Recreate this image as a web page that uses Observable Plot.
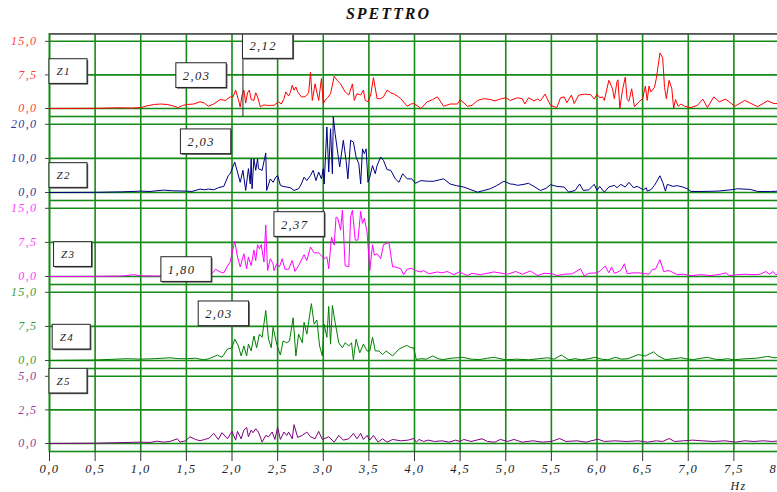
<!DOCTYPE html>
<html><head><meta charset="utf-8">
<script src="https://cdn.jsdelivr.net/npm/d3@7"></script>
<script src="https://cdn.jsdelivr.net/npm/@observablehq/plot@0.6"></script>
<style>
html,body{margin:0;padding:0;background:#fff;overflow:hidden;width:777px;height:492px}
#title{height:33px;box-sizing:border-box;padding-top:6px;text-align:center;font-family:"Liberation Serif",serif;font-style:italic;font-weight:700;font-size:16px;line-height:16px;letter-spacing:2px;color:#111}
#chart svg{display:block;max-width:none !important;overflow:hidden}
#chart svg text{letter-spacing:1.4px}
</style></head><body>
<div id="title">SPETTRO</div>
<div id="chart"></div>
<script>
// ---- data: [frequency Hz, amplitude] ----
const z1 = [[0,0],[0.3,0.02],[0.55,0.05],[0.75,0.15],[0.9,0.1],[1.0,0.2],[1.07,0.6],[1.15,0.9],[1.22,1.0],[1.29,0.9],[1.35,0.6],[1.41,0.2],[1.46,0.7],[1.51,0.9],[1.58,1.0],[1.65,1.5],[1.7,1.2],[1.74,0.5],[1.8,1.0],[1.87,2.0],[1.93,1.8],[1.98,2.6],[2.01,2.5],[2.04,4.1],[2.07,2.0],[2.09,0.3],[2.11,3.0],[2.13,4.1],[2.15,1.2],[2.17,3.5],[2.19,4.1],[2.21,2.0],[2.24,1.8],[2.26,3.5],[2.28,2.6],[2.31,0.4],[2.35,0.8],[2.38,0.7],[2.42,0.7],[2.46,0.7],[2.51,1.5],[2.54,1.0],[2.57,2.2],[2.59,3.7],[2.62,2.8],[2.64,3.6],[2.66,5.2],[2.68,4.1],[2.70,4.8],[2.72,3.7],[2.76,2.6],[2.80,2.6],[2.84,3.5],[2.86,8.1],[2.88,1.8],[2.91,5.5],[2.95,1.8],[2.98,6.7],[3.0,1.1],[3.02,1.8],[3.05,2.5],[3.08,3.3],[3.12,7.2],[3.15,6.3],[3.19,5.5],[3.24,3.7],[3.28,3.0],[3.32,5.5],[3.34,1.8],[3.37,3.3],[3.41,3.0],[3.44,4.1],[3.46,1.8],[3.49,1.5],[3.52,3.0],[3.55,6.9],[3.59,2.2],[3.63,2.2],[3.66,2.6],[3.70,4.1],[3.74,3.5],[3.77,3.3],[3.81,2.8],[3.85,2.2],[3.92,0.5],[3.96,1.0],[3.99,1.1],[4.04,0.5],[4.07,0.0],[4.14,1.5],[4.2,2.0],[4.25,2.6],[4.32,0.5],[4.39,1.0],[4.47,1.0],[4.50,2.0],[4.58,0.5],[4.63,0.7],[4.69,1.8],[4.76,2.2],[4.83,2.0],[4.88,1.7],[4.94,2.1],[5.00,2.4],[5.05,1.8],[5.13,2.4],[5.18,2.2],[5.21,1.0],[5.25,2.4],[5.31,1.7],[5.35,2.1],[5.38,1.7],[5.43,3.2],[5.49,0.7],[5.56,0.2],[5.60,2.4],[5.64,2.6],[5.67,1.3],[5.72,3.0],[5.75,1.1],[5.80,3.0],[5.86,3.2],[5.93,3.1],[5.97,2.1],[6.0,3.2],[6.03,2.4],[6.06,2.6],[6.08,1.8],[6.13,6.3],[6.17,4.4],[6.19,2.2],[6.22,6.1],[6.23,6.4],[6.25,0.0],[6.28,4.2],[6.31,7.0],[6.33,2.0],[6.35,1.6],[6.38,4.4],[6.41,0.4],[6.46,1.5],[6.50,2.2],[6.53,5.0],[6.55,1.8],[6.57,5.0],[6.59,3.7],[6.63,4.7],[6.65,6.7],[6.69,12.4],[6.72,11.3],[6.74,4.7],[6.76,2.2],[6.79,6.3],[6.82,4.4],[6.84,0.0],[6.86,2.0],[6.89,0.5],[6.92,1.0],[6.96,0.5],[7.03,0.2],[7.10,0.7],[7.16,2.1],[7.21,0.2],[7.28,2.6],[7.34,1.5],[7.41,2.1],[7.51,0.5],[7.62,1.8],[7.70,1.0],[7.76,0.4],[7.87,1.7],[7.94,1.1],[8.0,1.1]];
const z2 = [[0,0],[0.5,0.05],[0.8,0.2],[1.0,0.4],[1.1,0.3],[1.25,0.7],[1.35,0.5],[1.5,0.4],[1.56,0.3],[1.65,1.0],[1.7,0.8],[1.74,1.0],[1.8,0.8],[1.85,1.4],[1.91,1.8],[1.96,5.0],[1.98,5.5],[2.03,8.9],[2.06,6.0],[2.09,3.0],[2.12,6.5],[2.15,0.6],[2.18,7.0],[2.20,2.5],[2.21,9.9],[2.22,1.1],[2.24,9.9],[2.26,6.5],[2.28,9.9],[2.29,7.0],[2.33,6.5],[2.37,11.6],[2.38,0.6],[2.42,4.0],[2.45,3.0],[2.48,4.5],[2.50,5.0],[2.53,2.1],[2.56,1.8],[2.60,1.6],[2.64,1.4],[2.68,0.6],[2.73,1.1],[2.76,2.5],[2.79,4.5],[2.82,3.5],[2.86,5.0],[2.89,6.5],[2.92,3.5],[2.95,6.0],[2.98,4.0],[3.00,7.0],[3.01,2.5],[3.04,19.2],[3.06,6.0],[3.08,18.7],[3.10,5.5],[3.11,22.2],[3.13,17.3],[3.16,11.4],[3.18,7.5],[3.22,15.3],[3.25,9.4],[3.27,4.0],[3.30,15.3],[3.33,14.8],[3.36,10.4],[3.39,8.4],[3.41,2.5],[3.43,12.8],[3.45,11.4],[3.47,12.8],[3.49,3.0],[3.51,4.5],[3.54,7.9],[3.57,5.5],[3.59,7.9],[3.63,10.4],[3.66,9.4],[3.70,6.7],[3.74,6.5],[3.79,4.0],[3.83,3.0],[3.87,5.5],[3.92,4.0],[3.97,4.0],[4.01,2.7],[4.07,3.5],[4.14,3.3],[4.21,3.3],[4.27,3.7],[4.32,4.0],[4.39,2.5],[4.46,2.0],[4.54,1.6],[4.62,0.8],[4.69,0.1],[4.76,0.6],[4.83,1.1],[4.90,2.0],[4.98,3.3],[5.05,2.5],[5.09,2.4],[5.13,2.1],[5.20,2.4],[5.25,2.7],[5.32,1.6],[5.38,0.6],[5.44,1.2],[5.49,2.3],[5.56,1.8],[5.64,1.6],[5.69,0.1],[5.76,0.6],[5.81,2.5],[5.85,0.6],[5.91,0.8],[5.97,2.4],[6.00,0.6],[6.03,1.8],[6.08,0.1],[6.13,1.6],[6.19,2.1],[6.22,1.4],[6.26,2.4],[6.31,1.6],[6.35,3.0],[6.40,1.4],[6.44,1.8],[6.51,0.8],[6.54,1.4],[6.55,0.4],[6.59,0.8],[6.63,2.1],[6.65,3.0],[6.69,4.9],[6.72,3.0],[6.75,0.4],[6.77,2.4],[6.83,1.8],[6.88,2.0],[6.94,1.6],[6.99,1.1],[7.03,0.3],[7.14,0.3],[7.32,0.4],[7.47,0.8],[7.54,1.1],[7.68,0.9],[7.76,0.3],[7.90,0.3],[8.0,0.4]];
const z3 = [[0,0],[0.5,0.02],[0.8,0.1],[0.92,0.4],[1.0,0.15],[1.2,0.1],[1.5,0.1],[1.78,0.6],[1.82,1.6],[1.87,1.0],[1.91,0.8],[1.95,2.3],[1.98,3.2],[2.03,7.8],[2.06,4.3],[2.09,2.1],[2.13,5.0],[2.16,1.7],[2.18,4.3],[2.21,2.4],[2.24,5.8],[2.26,3.5],[2.28,7.0],[2.30,6.1],[2.32,7.0],[2.35,3.2],[2.37,11.3],[2.39,1.3],[2.42,3.9],[2.45,2.8],[2.46,1.3],[2.49,2.8],[2.52,2.1],[2.55,3.9],[2.58,1.6],[2.62,1.6],[2.66,3.5],[2.69,1.1],[2.73,2.4],[2.79,4.8],[2.82,3.5],[2.86,6.5],[2.90,5.2],[2.95,5.2],[3.01,3.9],[3.04,4.3],[3.06,1.7],[3.09,8.7],[3.12,6.9],[3.14,13.1],[3.16,12.8],[3.19,10.2],[3.21,14.6],[3.24,2.4],[3.28,2.1],[3.30,13.1],[3.32,14.6],[3.35,8.0],[3.38,8.0],[3.41,14.3],[3.43,11.7],[3.45,12.8],[3.48,9.8],[3.51,1.3],[3.54,7.0],[3.56,4.7],[3.59,5.0],[3.63,3.9],[3.66,7.0],[3.72,7.5],[3.76,2.1],[3.79,2.1],[3.85,1.7],[3.88,0.4],[3.92,1.6],[3.97,1.8],[4.01,1.3],[4.07,1.0],[4.10,1.3],[4.16,0.6],[4.25,1.0],[4.30,0.8],[4.36,1.1],[4.43,0.4],[4.49,1.0],[4.58,0.2],[4.63,0.7],[4.72,0.4],[4.87,1.0],[5.02,0.5],[5.11,1.1],[5.18,0.5],[5.27,1.2],[5.35,0.2],[5.42,0.7],[5.51,0.6],[5.56,0.2],[5.64,0.5],[5.73,0.6],[5.82,1.7],[5.86,0.1],[5.91,0.7],[6.00,0.8],[6.04,1.3],[6.09,2.3],[6.13,0.8],[6.16,2.1],[6.19,0.7],[6.24,1.1],[6.27,1.6],[6.30,2.8],[6.33,0.6],[6.39,0.8],[6.46,0.8],[6.57,0.5],[6.61,1.6],[6.64,1.6],[6.69,3.7],[6.73,1.1],[6.79,1.3],[6.88,0.4],[6.95,0.5],[7.03,0.2],[7.14,0.4],[7.25,0.2],[7.35,0.5],[7.41,0.8],[7.45,0.2],[7.54,0.4],[7.62,0.5],[7.72,0.4],[7.79,0.5],[7.85,1.1],[7.89,0.5],[7.93,1.1],[7.96,0.4],[8.0,0.6]];
const z4 = [[0,0],[0.5,0.1],[0.85,0.4],[1.0,0.3],[1.15,0.4],[1.32,0.6],[1.42,0.4],[1.51,0.4],[1.6,0.5],[1.69,0.15],[1.75,0.4],[1.84,1.2],[1.89,0.7],[1.95,2.5],[2.00,2.8],[2.03,4.7],[2.07,3.2],[2.10,1.0],[2.13,3.2],[2.16,1.0],[2.18,3.6],[2.21,2.1],[2.24,5.4],[2.27,2.8],[2.30,5.8],[2.33,5.1],[2.37,11.0],[2.40,4.7],[2.43,2.8],[2.45,7.3],[2.49,3.6],[2.53,1.2],[2.56,4.3],[2.60,3.9],[2.63,4.3],[2.67,9.4],[2.70,1.0],[2.73,5.8],[2.77,3.9],[2.79,8.4],[2.82,5.8],[2.87,12.5],[2.90,8.0],[2.93,8.9],[2.96,3.2],[2.99,1.0],[3.01,8.0],[3.04,5.1],[3.06,11.9],[3.08,3.6],[3.10,12.1],[3.13,8.4],[3.17,3.9],[3.21,2.8],[3.24,3.9],[3.28,3.2],[3.31,3.9],[3.33,0.2],[3.36,4.7],[3.40,1.7],[3.44,3.6],[3.48,2.1],[3.51,2.1],[3.54,5.1],[3.57,2.1],[3.61,2.1],[3.65,1.3],[3.69,2.1],[3.76,1.0],[3.83,2.5],[3.90,3.2],[3.92,3.3],[3.96,2.8],[3.99,2.8],[4.02,0.2],[4.07,0.4],[4.13,0.3],[4.20,1.0],[4.26,0.4],[4.31,0.2],[4.40,0.5],[4.53,0.7],[4.62,0.3],[4.71,0.2],[4.80,0.5],[4.87,0.7],[5.0,0.15],[5.12,0.3],[5.25,0.15],[5.36,0.4],[5.46,0.6],[5.53,0.3],[5.61,1.2],[5.69,0.15],[5.76,0.4],[5.83,0.15],[5.91,0.4],[5.98,0.7],[6.05,0.3],[6.12,0.15],[6.20,0.7],[6.27,0.3],[6.34,0.4],[6.45,1.3],[6.53,1.0],[6.62,1.9],[6.67,1.0],[6.75,0.2],[6.84,0.4],[6.92,0.6],[7.0,0.3],[7.06,0.2],[7.14,0.5],[7.21,0.7],[7.29,0.3],[7.36,0.2],[7.43,0.4],[7.50,0.15],[7.57,0.3],[7.64,0.4],[7.75,0.5],[7.87,0.9],[7.94,0.6],[8.0,0.7]];
const z5 = [[0,0],[0.5,0.02],[1.0,0.1],[1.1,0.08],[1.18,0.17],[1.25,0.1],[1.32,0.15],[1.40,0.35],[1.43,0.1],[1.49,0.2],[1.54,0.5],[1.60,0.3],[1.65,0.2],[1.70,0.3],[1.75,0.4],[1.80,0.75],[1.85,0.3],[1.89,0.8],[1.95,0.35],[2.00,0.9],[2.04,0.25],[2.06,0.9],[2.10,0.35],[2.13,1.0],[2.16,1.2],[2.18,0.5],[2.21,1.0],[2.23,0.8],[2.26,1.1],[2.29,0.85],[2.33,0.1],[2.37,0.6],[2.40,0.5],[2.44,0.85],[2.47,0.3],[2.50,1.2],[2.53,0.3],[2.57,0.85],[2.60,0.6],[2.62,0.85],[2.66,0.35],[2.68,1.4],[2.72,0.45],[2.77,0.6],[2.82,0.85],[2.86,0.5],[2.91,0.35],[2.95,0.9],[2.99,0.3],[3.06,0.5],[3.12,0.1],[3.17,0.6],[3.22,0.25],[3.28,0.35],[3.33,0.75],[3.37,0.35],[3.41,0.75],[3.44,0.3],[3.48,0.6],[3.51,0.25],[3.55,0.6],[3.60,0.1],[3.65,0.35],[3.70,0.1],[3.76,0.3],[3.85,0.2],[3.93,0.25],[3.99,0.37],[4.02,0.1],[4.05,0.3],[4.10,0.15],[4.15,0.25],[4.22,0.15],[4.30,0.2],[4.38,0.1],[4.45,0.25],[4.50,0.15],[4.54,0.3],[4.62,0.15],[4.74,0.35],[4.80,0.15],[4.88,0.1],[4.94,0.3],[5.02,0.15],[5.09,0.3],[5.18,0.1],[5.30,0.2],[5.40,0.1],[5.50,0.15],[5.59,0.37],[5.66,0.15],[5.78,0.2],[5.88,0.1],[6.01,0.32],[6.08,0.15],[6.20,0.2],[6.32,0.15],[6.45,0.2],[6.55,0.1],[6.65,0.2],[6.72,0.15],[6.79,0.37],[6.85,0.15],[6.95,0.2],[7.05,0.25],[7.15,0.2],[7.28,0.15],[7.40,0.2],[7.52,0.1],[7.62,0.2],[7.72,0.15],[7.82,0.2],[7.92,0.15],[8.0,0.2]];

// ---- tick values ----
const xTicks = [0,0.5,1,1.5,2,2.5,3,3.5,4,4.5,5,5.5,6,6.5,7,7.5,8];
const yTicksZ1 = [0, 7.5, 15];
const yTicksZ2 = [0, 10, 20];
const yTicksZ3 = [0, 7.5, 15];
const yTicksZ4 = [0, 7.5, 15];
const yTicksZ5 = [0, 2.5, 5];
const xLabel = "Hz";

// ---- annotation labels (anchor: Hz, amplitude of the box's top-left corner) ----
const annZ1 = [{label:"Z1", hz:0.0, val:11.0}, {label:"2,03", hz:1.39, val:10.1}, {label:"2,12", hz:2.12, val:16.6}];
const annZ2 = [{label:"Z2", hz:0.0, val:8.6}, {label:"2,03", hz:1.44, val:18.5}];
const annZ3 = [{label:"Z3", hz:0.05, val:7.54}, {label:"2,37", hz:2.465, val:14.14}, {label:"1,80", hz:1.226, val:4.24}];
const annZ4 = [{label:"Z4", hz:0.035, val:7.85}, {label:"2,03", hz:1.635, val:12.98}];
const annZ5 = [{label:"Z5", hz:0.0, val:5.56}];
const markerZ1 = [2.12];

// ---- layout / style ----
const GREEN = "#168a16";
const W = 780, ML = 49, MR = 1, AXIS_H = 41;
const pxPerHz = (W - ML - MR) / 8;
const fmt = d => d.toFixed(1).replace(".", ",");
const panels = [
  {data:z1, ticks:yTicksZ1, ann:annZ1, markers:markerZ1, line:"#ff0000", label:"#ff3c3c", h:83},
  {data:z2, ticks:yTicksZ2, ann:annZ2, markers:[], line:"#000080", label:"#33339a", h:84},
  {data:z3, ticks:yTicksZ3, ann:annZ3, markers:[], line:"#ff00ff", label:"#ff3cff", h:84},
  {data:z4, ticks:yTicksZ4, ann:annZ4, markers:[], line:"#008000", label:"#3a9a3a", h:84},
  {data:z5, ticks:yTicksZ5, ann:annZ5, markers:[], line:"#800080", label:"#9a3a9a", h:83}
];
const chart = document.getElementById("chart");
panels.forEach((p, i) => {
  const last = i === panels.length - 1;
  const max = p.ticks[p.ticks.length - 1];
  const zeroY = p.h - 8, topY = 7.8;
  const k = (zeroY - topY) / max;
  const hi = max + topY / k;
  const lo = -(p.h - zeroY) / k;
  const boxH = 24.7 / k;
  const boxes = p.ann.map(a => ({...a, w: (a.label.startsWith("Z") ? 38 : 50.4) / pxPerHz}));
  const zBoxes = boxes.filter(b => b.label.startsWith("Z"));
  const nBoxes = boxes.filter(b => !b.label.startsWith("Z"));
  const marks = [
    Plot.ruleX(xTicks, {stroke: GREEN, strokeWidth: 1.6}),
    Plot.ruleY(p.ticks, {stroke: GREEN, strokeWidth: 1.6}),
    Plot.frame({stroke: GREEN, strokeWidth: 1.6}),
    Plot.line(p.data, {x: d => d[0], y: d => d[1], stroke: p.line, strokeWidth: 1}),
    Plot.ruleX(p.markers, {x: d => d, y1: d => (boxes.find(b => b.hz === d) || {val: hi}).val - boxH, y2: lo, stroke: "#222", strokeWidth: 1}),
    Plot.rect(boxes, {x1: d => d.hz, x2: d => d.hz + d.w, y1: d => d.val, y2: d => d.val - boxH, fill: "#555", dx: 1.2, dy: 1.2}),
    Plot.rect(boxes, {x1: d => d.hz, x2: d => d.hz + d.w, y1: d => d.val, y2: d => d.val - boxH, fill: "white", stroke: "#222", strokeWidth: 1}),
    Plot.text(zBoxes, {x: d => d.hz, y: d => d.val - boxH / 2, text: d => d.label, textAnchor: "start", lineAnchor: "middle", dx: 7, fontSize: 11, fill: "#222"}),
    Plot.text(nBoxes, {x: d => d.hz, y: d => d.val - boxH / 2, text: d => d.label, textAnchor: "start", lineAnchor: "middle", dx: 6.5, fontSize: 12.5, fill: "#222"}),
    Plot.axisY(p.ticks, {tickFormat: fmt, tickSize: 4, tickPadding: 8, fill: p.label, stroke: "#444", fontSize: 12, label: null})
  ];
  if (i === 0) marks.push(Plot.ruleY([hi], {stroke: "#555", strokeWidth: 2.6}));
  if (last) {
    marks.push(Plot.axisX(xTicks, {tickFormat: fmt, tickSize: 10, tickPadding: 3, fill: "#222", stroke: "#333", fontSize: 12.5, label: null}));
    marks.push(Plot.text([xLabel], {frameAnchor: "bottom-right", textAnchor: "start", lineAnchor: "middle", dx: -49, dy: 35, fontSize: 12, fill: "#222"}));
  }
  const svg = Plot.plot({
    width: W,
    height: p.h + (last ? AXIS_H : 0),
    marginLeft: ML, marginRight: MR, marginTop: 0, marginBottom: last ? AXIS_H : 0,
    style: {fontFamily: "'Liberation Serif', serif", fontStyle: "italic", fontSize: "12px", background: "white", overflow: "hidden"},
    x: {domain: [0, 8], axis: last ? undefined : null},
    y: {domain: [lo, hi]},
    marks
  });
  chart.appendChild(svg);
});
</script>
</body></html>
